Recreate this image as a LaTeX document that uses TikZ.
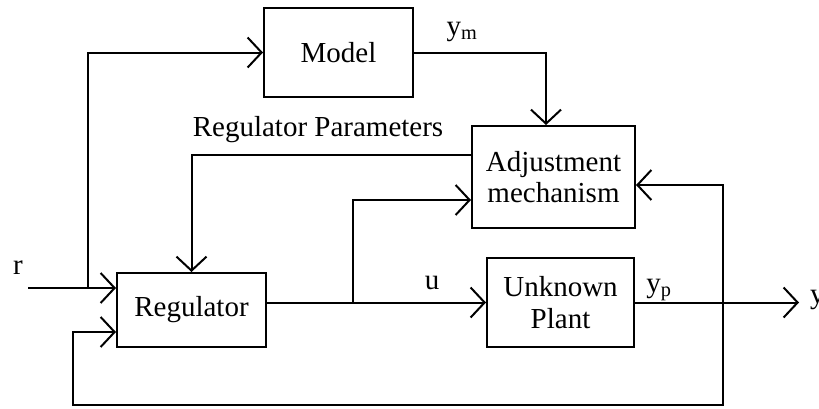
\documentclass[tikz,border=0pt]{standalone}
\usepackage{fontspec}
\setmainfont{Liberation Serif}
\usetikzlibrary{arrows.meta}
\tikzset{
  blk/.style={draw, line width=2pt, minimum width=#1, align=center, inner sep=0pt},
  arr/.style={line width=2pt, -{Straight Barb[length=14pt,width=30pt,line width=2pt]}},
  ln/.style={line width=2pt},
  lbl/.style={inner sep=0pt}
}
\begin{document}
\begin{tikzpicture}[x=1pt,y=-1pt,font=\fontsize{29}{36}\selectfont]
\useasboundingbox (0,0) rectangle (819,408);
\node[blk=149pt, minimum height=89pt] (model) at (338.5,52.5) {Model};
\node[blk=163pt, minimum height=102pt] (adj) at (553.5,177) {Adjustment\\[-5pt]mechanism};
\node[blk=149pt, minimum height=74pt] (reg) at (191.5,310) {Regulator};
\node[blk=147pt, minimum height=89pt] (plant) at (560.5,302.5) {Unknown\\[-4pt]Plant};
\coordinate (rin) at (28,288);
\coordinate (br1) at (88,288);
\coordinate (br2) at (353,302.5);
\coordinate (fb) at (723,302.5);
\coordinate (fbl) at (73,405);
\coordinate (yout) at (799,302.5);
% labels
\node[lbl] (rl) at (18,268) {r};
\node[lbl] (yml) at (462,32) {y\textsubscript{m}};
\node[lbl] (rp) at (318,130) {Regulator Parameters};
\node[lbl] (ul) at (432,283) {u};
\node[lbl] (ypl) at (659,290) {y\textsubscript{p}};
\node[lbl, anchor=west] (yl) at (810,300) {y};
% connectors
\draw[arr] (rin) -- (rin -| reg.west);
\draw[arr] (br1) |- (model.west);
\draw[arr] (model.east) -| ([xshift=-7.5pt]adj.north);
\draw[arr] ([yshift=22pt]adj.west) -| (reg.north);
\draw[arr] (reg.east |- plant) -- (plant.west);
\draw[arr] (br2) |- ([yshift=-23pt]adj.west);
\draw[arr] (plant.east) -- (yout);
\draw[arr] (fb) |- (fbl) |- ([yshift=-22pt]reg.west);
\draw[arr] (fb) |- ([yshift=-8pt]adj.east);
\end{tikzpicture}
\end{document}
